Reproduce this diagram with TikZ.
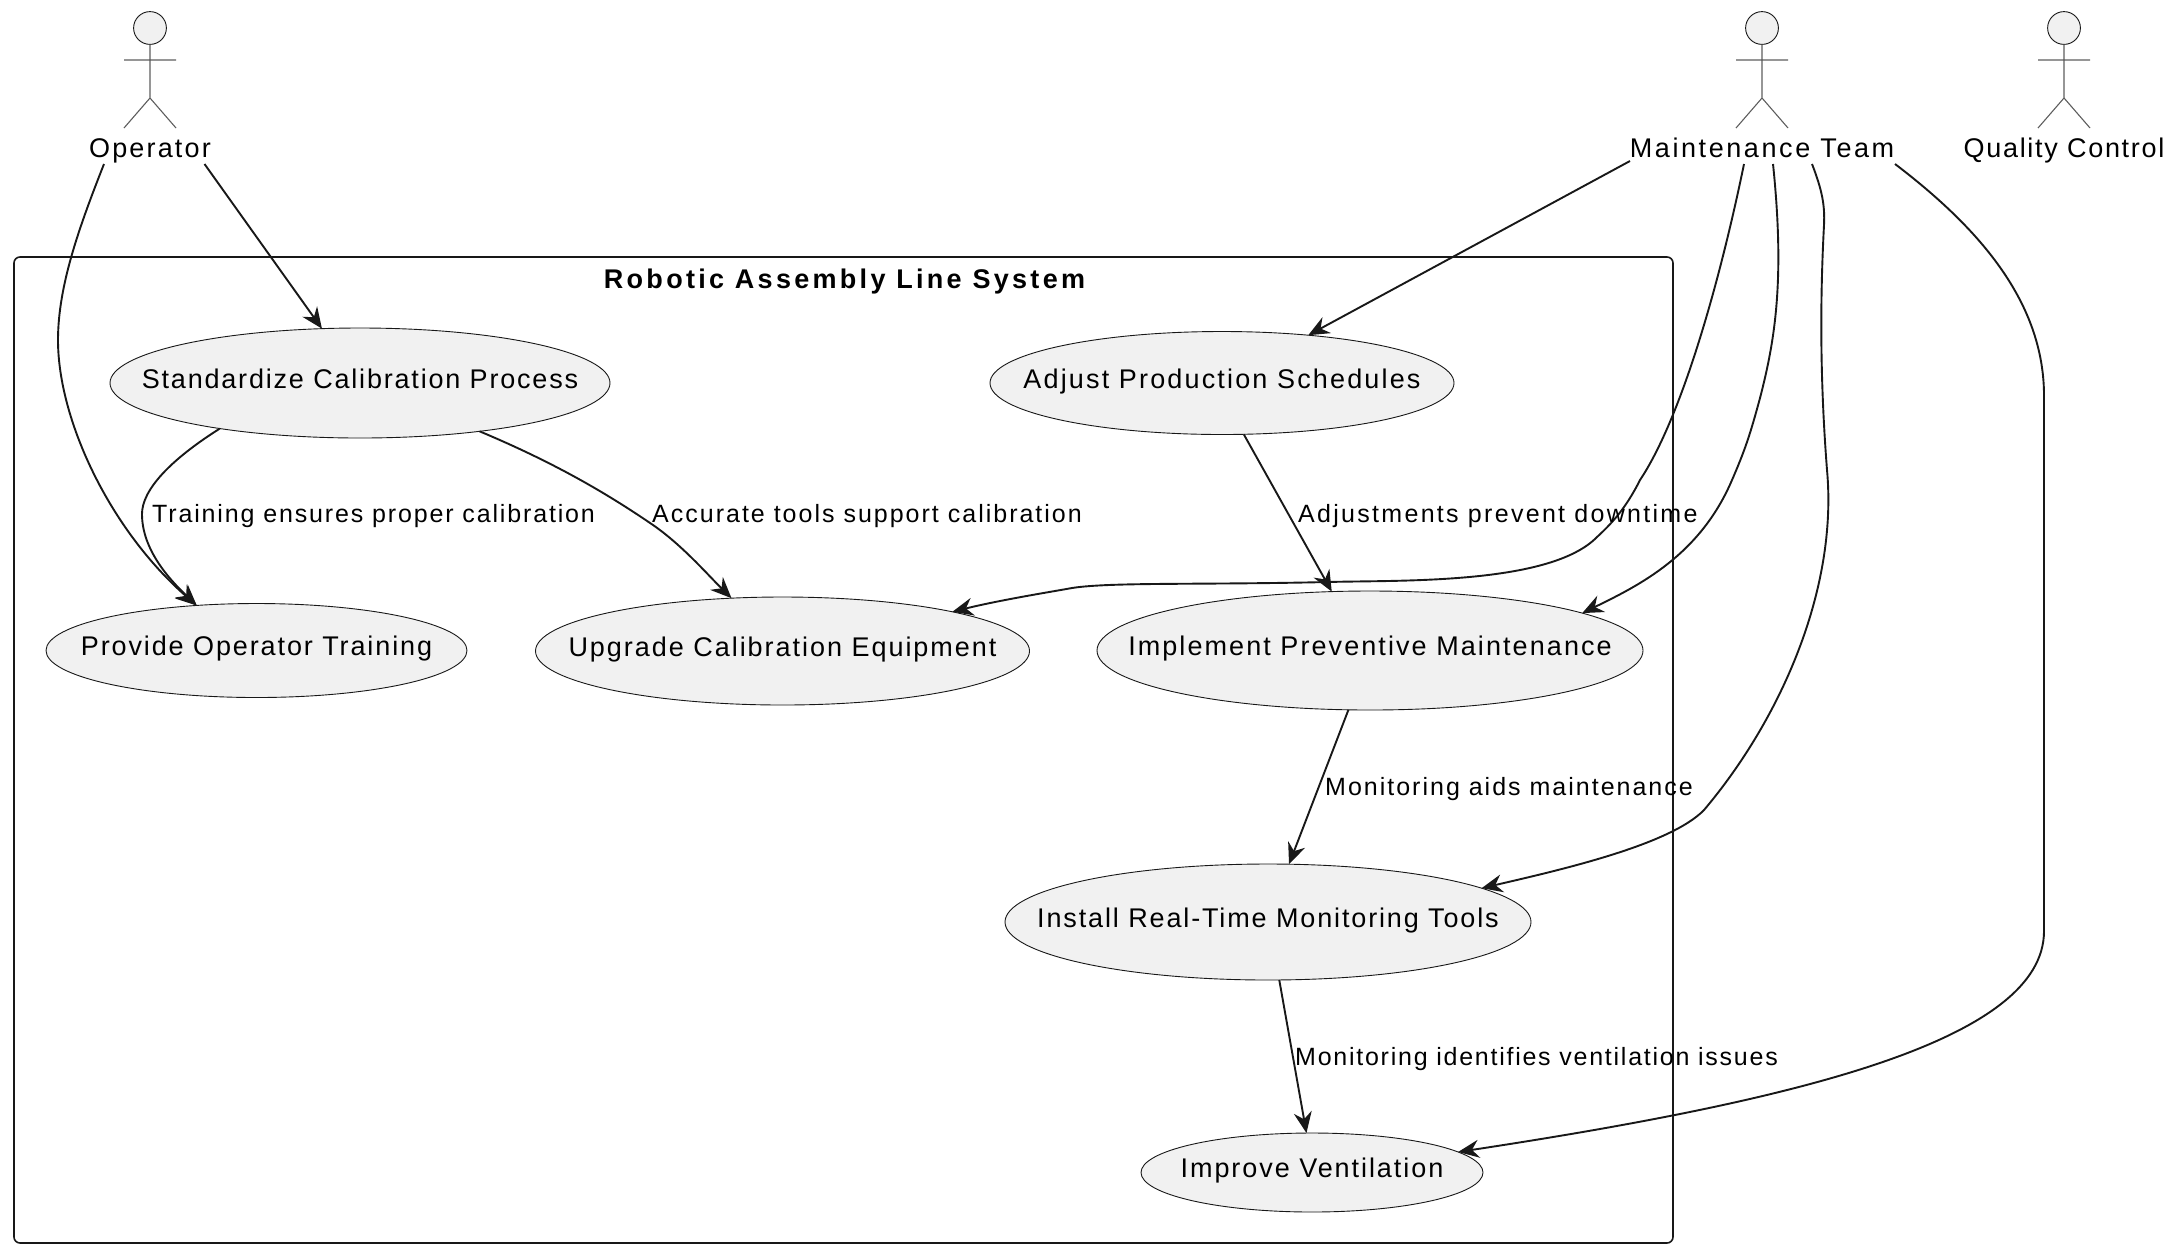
\documentclass[tikz,border=0pt]{standalone}
\usepackage{fontspec}
\setmainfont{Liberation Sans}[LetterSpace=8]
\usetikzlibrary{arrows.meta, positioning, shapes.geometric}

\definecolor{ink}{HTML}{181818}
\definecolor{ucfill}{HTML}{F1F1F1}
\newcommand{\spaced}[2]{{\addfontfeature{LetterSpace=#1}#2}}
\newcommand{\uctext}[2]{\makebox[0pt]{\spaced{#1}{#2}}}

\tikzset{
    usecase/.style = {ellipse, draw=ink, fill=ucfill, line width=0.9pt,
        inner sep=0pt, outer sep=0pt, text height=20pt, text depth=10pt,
        font=\fontsize{27}{30}\selectfont},
    actorname/.style = {inner sep=0pt, outer sep=0pt, text height=20pt, text depth=7pt,
        font=\fontsize{27}{30}\selectfont},
    edgetext/.style = {inner sep=0pt, anchor=base west,
        font=\fontsize{25}{30}\selectfont},
    link/.style = {color=ink, line width=1.9pt,
        -{Stealth[length=21pt, width=18pt, inset=7pt]}},
    actorfig/.pic = {
        \draw [ink, fill=ucfill, line width=0.9pt] (0,0) circle (16.4pt);
        \draw [ink!70, line width=1.1pt]
            (0,16) -- (0,70)
            (-26,32) -- (26,32)
            (-26,100) -- (0,70) -- (26,100);
    }
}

\begin{document}
\begin{tikzpicture} [x=1pt, y=-1pt,
            node distance = 100pt,
            on grid]
        \useasboundingbox (0,0) rectangle (2178,1254);

        % System boundary
        \node (system) [draw=ink, rounded corners=6pt, line width=1.6pt,
            minimum width=1659pt, minimum height=986pt,
            inner sep=0pt, outer sep=0pt] at (843.5,750) {};
        \node (systitle) [inner sep=0pt, anchor=base,
            font=\fontsize{27}{30}\selectfont\bfseries] at (844.5,288) {\spaced{12.2}{Robotic Assembly Line System}};

        % Actors
        \pic at (150,28) {actorfig};
        \pic at (1762,28) {actorfig};
        \pic at (2064,28) {actorfig};
        \node (operator) [actorname] at (150,150.5) {Operator};
        \node (maint) [actorname, right = 1612pt of operator] {\spaced{9.6}{Maintenance Team}};
        \node (quality) [actorname, right = 302pt of maint] {\spaced{6.3}{Quality Control}};

        % Use cases
        \node (stdcal) [usecase, minimum width=500pt, minimum height=110pt]
            at (360,383) {\uctext{6.7}{Standardize Calibration Process}};
        \node (adjust) [usecase, minimum width=464pt, minimum height=103pt,
            right = 862pt of stdcal] {\uctext{8}{Adjust Production Schedules}};
        \node (training) [usecase, minimum width=421pt, minimum height=94pt]
            at (256.5,650.5) {\uctext{7}{Provide Operator Training}};
        \node (upgrade) [usecase, minimum width=494pt, minimum height=108pt]
            at (782.5,651) {\uctext{7.3}{Upgrade Calibration Equipment}};
        \node (prevent) [usecase, minimum width=546pt, minimum height=119pt]
            at (1370,650.5) {\uctext{7.7}{Implement Preventive Maintenance}};
        \node (monitor) [usecase, minimum width=526pt, minimum height=116pt]
            at (1268,922) {\uctext{6.9}{Install Real-Time Monitoring Tools}};
        \node (ventilate) [usecase, minimum width=342pt, minimum height=79pt]
            at (1312,1172.5) {\uctext{7.2}{Improve Ventilation}};

        % Straight arrows
        \path [link]
            ([xshift=54.5pt]operator.south) edge (stdcal.125)
            ([xshift=-132pt,yshift=3pt]maint.south) edge (adjust.29)
            (adjust.-67) edge (prevent.123)
            (prevent.250) edge (monitor.70)
            (monitor.-79) edge (ventilate.98);

        % Curved arrows
        \draw [link] ([xshift=-46pt]operator.south)
            .. controls (80,225) and (58,285) .. (58,340)
            .. controls (58,420) and (110,530) .. (training.143);
        \draw [link] (stdcal.198)
            .. controls (170,460) and (142,490) .. (142,514)
            .. controls (142,550) and (170,580) .. (training.143);
        \draw [link] (stdcal.-22)
            .. controls (560,465) and (612,497) .. (653,525)
            .. controls (682,545) and (708,575) .. (upgrade.134);
        \draw [link] ([xshift=-18pt]maint.south)
            .. controls (1718,290) and (1680,420) .. (1640,480)
            .. controls (1625,510) and (1610,525) .. (1597,537)
            .. controls (1550,585) and (1400,580) .. (1328,582)
            .. controls (1200,585) and (1110,582) .. (1072,588)
            .. controls (1050,592) and (1000,600) .. (upgrade.13);
        \draw [link] ([xshift=11pt]maint.south)
            .. controls (1785,280) and (1775,340) .. (1760,398)
            .. controls (1750,435) and (1745,450) .. (1732,480)
            .. controls (1700,555) and (1640,585) .. (prevent.10.5);
        \draw [link] ([xshift=50pt]maint.south)
            .. controls (1822,190) and (1825,205) .. (1824,225)
            .. controls (1820,300) and (1820,380) .. (1827,470)
            .. controls (1838,590) and (1780,720) .. (1704,810)
            .. controls (1670,845) and (1560,870) .. (monitor.9.5);
        \draw [link] ([xshift=133pt]maint.south)
            .. controls (1975,225) and (2045,300) .. (2044,398)
            -- (2044,931)
            .. controls (2044,1040) and (1800,1100) .. (ventilate.8.5);

        % Edge labels
        \node (lbltrain) [edgetext] at (152,522) {\spaced{7.4}{Training ensures proper calibration}};
        \node (lbltools) [edgetext] at (652,522) {Accurate tools support calibration};
        \node (lbladjust) [edgetext] at (1298,522) {\spaced{9.2}{Adjustments prevent downtime}};
        \node (lblmaint) [edgetext] at (1325,795) {Monitoring aids maintenance};
        \node (lblvent) [edgetext] at (1295,1065) {\spaced{7}{Monitoring identifies ventilation issues}};
\end{tikzpicture}
\end{document}
